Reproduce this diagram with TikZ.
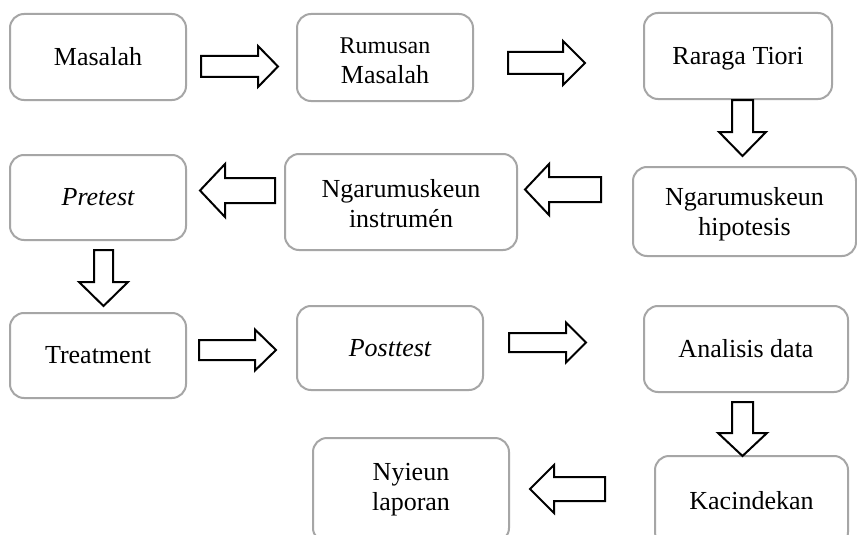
\documentclass[tikz,border=0pt]{standalone}
\usepackage{fontspec}
\setmainfont{Liberation Serif}
\definecolor{boxgray}{HTML}{A6A6A6}
\tikzset{
  box/.style={draw=boxgray, line width=2pt, rounded corners=14pt, fill=white,
    align=center, inner sep=0pt, font=\fontsize{26}{30}\selectfont},
  blockarrow/.style={draw=black, line width=2pt, fill=white, line join=miter}
}
% right/left block arrow: x-start, x-headbase, x-tip, y-centre, shaft half, head half
\newcommand\hblock[6]{\draw[blockarrow] (#1,#4-#5) -- (#2,#4-#5) -- (#2,#4-#6) -- (#3,#4) -- (#2,#4+#6) -- (#2,#4+#5) -- (#1,#4+#5) -- cycle;}
% down block arrow: y-start, y-headbase, y-tip, x-centre, shaft half, head half
\newcommand\vblock[6]{\draw[blockarrow] (#4-#5,#1) -- (#4-#5,#2) -- (#4-#6,#2) -- (#4,#3) -- (#4+#6,#2) -- (#4+#5,#2) -- (#4+#5,#1) -- cycle;}
\newcommand\nodepth[1]{\raisebox{0pt}[\height][0pt]{#1}}
\begin{document}
\begin{tikzpicture}[x=1pt, y=-1pt]
\useasboundingbox (0,0) rectangle (857,535);
\clip (0,0) rectangle (857,535);
\fill[white] (0,0) rectangle (857,535);

\node[box, minimum width=176pt, minimum height=86pt] (masalah) at (98,57) {Masalah};
\node[box, minimum width=176pt, minimum height=87pt] (rumusan) at (385,57.5) {\rule{0pt}{21.5pt}{\fontsize{24}{30}\selectfont Rumusan}\\Masalah};
\node[box, minimum width=188pt, minimum height=86pt] (raraga) at (738,56) {\nodepth{Raraga Tiori}};
\node[box, minimum width=223pt, minimum height=89pt] (hipotesis) at (744.5,211.5) {Ngarumuskeun\\\nodepth{hipotesis}};
\node[box, minimum width=232pt, minimum height=96pt] (instrumen) at (401,202) {\rule{0pt}{21.8pt}Ngarumuskeun\\instrumén};
\node[box, minimum width=176pt, minimum height=85pt] (pretest) at (98,197.5) {\itshape Pretest};
\node[box, minimum width=176pt, minimum height=85pt] (treatment) at (98,355.5) {Treatment};
\node[box, minimum width=186pt, minimum height=84pt] (posttest) at (390,348) {\itshape Posttest};
\node[box, minimum width=204pt, minimum height=86pt] (analisis) at (746,349) {Analisis data};
\node[box, minimum width=193pt, minimum height=90pt] (kacindekan) at (751.5,501) {Kacindekan};
\node[box, minimum width=196pt, minimum height=104pt] (laporan) at (411,490) {Nyieun\\laporan};

% masalah -> rumusan
\hblock{201}{258}{278}{66.5}{10.5}{20.5}
% rumusan -> raraga
\hblock{508}{563}{585}{63}{11}{22}
% raraga -> hipotesis
\vblock{100}{132}{156}{742.5}{10.5}{23.5}
% hipotesis -> instrumen
\hblock{601}{549}{525}{189.5}{12.5}{25.5}
% instrumen -> pretest
\hblock{275}{225}{200}{190.5}{12.5}{26.5}
% pretest -> treatment
\vblock{250}{282}{306}{103.5}{9.5}{24.5}
% treatment -> posttest
\hblock{199}{255}{276}{350}{10}{20.5}
% posttest -> analisis
\hblock{509}{566}{586}{342.5}{9.5}{20}
% analisis -> kacindekan
\vblock{402}{433}{456}{742.5}{10.5}{24.5}
% kacindekan -> laporan
\hblock{605}{554}{530}{489}{12}{24}
\end{tikzpicture}
\end{document}
